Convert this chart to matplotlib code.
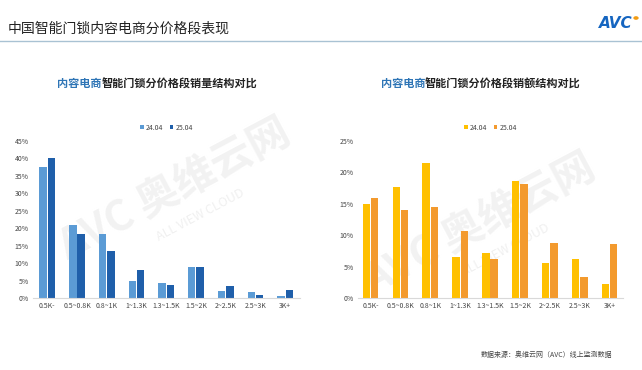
import matplotlib.pyplot as plt
import numpy as np

plt.rcParams['font.family'] = ['Noto Sans CJK SC', 'DejaVu Sans']

# ===== data =====
categories = ['0.5K-', '0.5~0.8K', '0.8~1K', '1~1.3K', '1.3~1.5K', '1.5~2K', '2~2.5K', '2.5~3K', '3K+']
series_names = ['24.04', '25.04']
volume_2404 = [37.5, 20.9, 18.4, 4.9, 4.2, 9.0, 2.1, 1.8, 0.6]
volume_2504 = [40.2, 18.4, 13.5, 8.1, 3.7, 9.0, 3.5, 1.0, 2.2]
amount_2404 = [14.9, 17.7, 21.5, 6.5, 7.1, 18.7, 5.6, 6.2, 2.3]
amount_2504 = [16.0, 14.0, 14.5, 10.7, 6.2, 18.2, 8.7, 3.3, 8.6]

W, H = 642, 370
fig = plt.figure(figsize=(W / 100, H / 100), dpi=100)

# ===== header =====
fig.text(8 / W, 1 - 29 / H, '中国智能门锁内容电商分价格段表现', fontsize=10, color='#222222',
         va='center', ha='left')
fig.add_artist(plt.Line2D([0, 1], [1 - 41 / H, 1 - 41 / H], color='#A9C2D3', lw=1.0))
fig.text(633 / W, 1 - 23 / H, 'AVC', fontsize=11, color='#1565C0', fontweight='bold',
         fontstyle='italic', va='center', ha='right', family='DejaVu Sans')
fig.add_artist(plt.Circle((636 / W, 1 - 18 / H), 0.003, color='#F39C12', transform=fig.transFigure))

# faint watermark (behind the charts)
for (x, y) in [(175, 190), (480, 225)]:
    fig.text(x / W, 1 - y / H, 'AVC 奥维云网', fontsize=30, color='#F2F2F2', rotation=28,
             ha='center', va='center', fontweight='bold', zorder=-5)
    fig.text((x + 25) / W, 1 - (y + 25) / H, 'ALL VIEW CLOUD', fontsize=9, color='#F0F0F0',
             rotation=28, ha='center', va='center', zorder=-5)


def draw_panel(rect, v1, v2, colors, ymax, subtitle_rest, cx, xlim):
    ax = fig.add_axes(rect)
    ax.patch.set_alpha(0)
    x = np.arange(len(categories))
    w = 0.25
    ax.bar(x - w / 2 - 0.015, v1, w, color=colors[0], label=series_names[0])
    ax.bar(x + w / 2 + 0.015, v2, w, color=colors[1], label=series_names[1])
    ax.set_xlim(*xlim)
    ax.set_ylim(0, ymax)
    ax.set_yticks(np.arange(0, ymax + 0.1, 5))
    ax.set_yticklabels([f'{int(t)}%' for t in np.arange(0, ymax + 0.1, 5)])
    ax.set_xticks(x)
    ax.set_xticklabels(categories)
    ax.tick_params(axis='both', length=0, labelsize=5, colors='#444444', pad=3)
    for s in ['top', 'right', 'left']:
        ax.spines[s].set_visible(False)
    ax.spines['bottom'].set_color('#D9D9D9')
    ax.legend(loc='lower center', bbox_to_anchor=(0.5, 1.02), ncol=2, frameon=False,
              fontsize=5, handlelength=0.5, handleheight=0.5, handletextpad=0.3,
              columnspacing=1.0, labelcolor='#444444')
    # subtitle: blue prefix + dark rest
    fig.text(cx / W, 1 - 84 / H, '内容电商', fontsize=8, color='#2E75B6',
             ha='right', va='center', fontweight='bold')
    fig.text(cx / W, 1 - 84 / H, subtitle_rest, fontsize=8, color='#222222',
             ha='left', va='center', fontweight='bold')
    return ax


draw_panel([33 / W, 1 - 298 / H, 267 / W, 157 / H], volume_2404, volume_2504,
           ['#5B9BD5', '#1F5FAA'], 45, '智能门锁分价格段销量结构对比', 102, (-0.48, 8.5))
draw_panel([358 / W, 1 - 298 / H, 265 / W, 157 / H], amount_2404, amount_2504,
           ['#FFC000', '#F39A2E'], 25, '智能门锁分价格段销额结构对比', 425, (-0.42, 8.45))

fig.text(612 / W, 1 - 355 / H, '数据来源：奥维云网（AVC）线上监测数据', fontsize=5,
         color='#444444', ha='right', va='center')

fig.savefig('out.png', dpi=100)
